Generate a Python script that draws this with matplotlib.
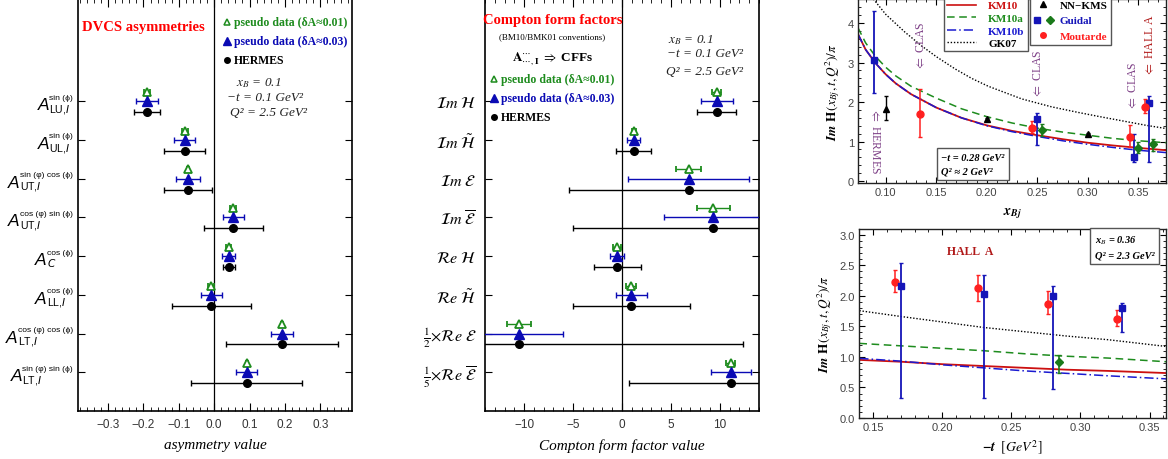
import matplotlib
matplotlib.use('Agg')
import matplotlib.pyplot as plt
from matplotlib.legend_handler import HandlerTuple
from matplotlib.lines import Line2D
from matplotlib.ticker import MultipleLocator, FixedLocator

SERIF = ['Liberation Serif', 'DejaVu Serif']
SANS = ['Liberation Sans', 'DejaVu Sans']

GREEN = '#1e8c1e'
BLUE = '#0a0ab4'
PURPLE = '#7d3f86'

# ---------------- DVCS asymmetries (left panel) ----------------
# label = A^(superscript)_(subscript)
asym_sup = ['sin (ϕ)', 'sin (ϕ)', 'sin (φ) cos (ϕ)', 'cos (φ) sin (ϕ)',
            'cos (ϕ)', 'cos (ϕ)', 'cos (φ) cos (ϕ)', 'sin (φ) sin (ϕ)']
asym_sub = [r'LU,$\mathit{I}$', r'UL,$\mathit{I}$', r'UT,$\mathit{I}$',
            r'UT,$\mathit{I}$', r'$\mathit{C}$', r'LL,$\mathit{I}$',
            r'LT,$\mathit{I}$', r'LT,$\mathit{I}$']
asym_val = [-0.19, -0.083, -0.073, 0.054, 0.041, -0.008, 0.192, 0.092]
asym_err_fine = [0.009, 0.009, 0.003, 0.009, 0.007, 0.008, 0.003, 0.003]
asym_err_blue = [0.031, 0.030, 0.034, 0.030, 0.018, 0.030, 0.031, 0.030]
asym_err_hermes = [0.036, 0.058, 0.068, 0.083, 0.017, 0.111, 0.158, 0.157]

# ---------------- Compton form factors (middle panel) ----------------
cff_labels = [
    r'$\mathcal{I}m\ \mathcal{H}$',
    r'$\mathcal{I}m\ \tilde{\mathcal{H}}$',
    r'$\mathcal{I}m\ \mathcal{E}$',
    r'$\mathcal{I}m\ \overline{\mathcal{E}}$',
    r'$\mathcal{R}e\ \mathcal{H}$',
    r'$\mathcal{R}e\ \tilde{\mathcal{H}}$',
    r'$\frac{1}{2}{\times}\mathcal{R}e\ \mathcal{E}$',
    r'$\frac{1}{5}{\times}\mathcal{R}e\ \overline{\mathcal{E}}$',
]
cff_val = [9.7, 1.19, 6.8, 9.35, -0.5, 0.95, -10.5, 11.1]
cff_err_fine = [0.45, 0.2, 1.28, 1.67, 0.45, 0.5, 1.22, 0.5]
cff_err_blue = [1.67, 0.68, 6.2, 5.1, 0.7, 1.56, 4.5, 2.04]
cff_err_hermes = [2.0, 1.8, 12.2, 14.4, 2.4, 6.0, 22.9, 10.4]

# ---------------- Im H vs x_Bj (top right) ----------------
xb_grid = [0.0725, 0.08, 0.09, 0.10, 0.11, 0.125, 0.15, 0.175, 0.2,
           0.225, 0.25, 0.275, 0.3, 0.325, 0.35, 0.3775]
km10_xb = [3.72, 3.33, 2.98, 2.70, 2.47, 2.20, 1.86, 1.60, 1.41,
           1.27, 1.16, 1.06, 0.97, 0.90, 0.84, 0.78]
km10a_xb = [3.88, 3.50, 3.15, 2.88, 2.66, 2.40, 2.10, 1.83, 1.63,
            1.47, 1.34, 1.24, 1.16, 1.08, 1.02, 0.97]
km10b_xb = [3.72, 3.33, 2.98, 2.70, 2.47, 2.20, 1.86, 1.60, 1.40,
            1.25, 1.13, 1.02, 0.93, 0.85, 0.78, 0.72]
gk07_grid = [0.084, 0.0877, 0.10, 0.119, 0.1356, 0.15, 0.1686, 0.185, 0.2015,
             0.2346, 0.264, 0.29, 0.312, 0.335, 0.358, 0.3775]
gk07_xb = [4.74, 4.61, 4.22, 3.77, 3.42, 3.15, 2.84, 2.60, 2.40,
           2.08, 1.88, 1.74, 1.63, 1.52, 1.41, 1.33]

nn_x = [0.10, 0.20, 0.3005]
nn_y = [1.83, 1.56, 1.18]
nn_lo = [1.55, 1.52, 1.14]
nn_hi = [2.15, 1.60, 1.22]

guidal_sq_x = [0.0884, 0.2494, 0.3457, 0.3606]
guidal_sq_y = [3.06, 1.58, 0.61, 1.98]
guidal_sq_lo = [2.23, 0.90, 0.47, 0.48]
guidal_sq_hi = [4.31, 1.72, 1.18, 2.16]

guidal_dm_x = [0.2544, 0.3500, 0.3648]
guidal_dm_y = [1.30, 0.84, 0.93]
guidal_dm_lo = [1.13, 0.72, 0.76]
guidal_dm_hi = [1.45, 0.99, 1.07]

mout_x = [0.134, 0.245, 0.3418, 0.357]
mout_y = [1.71, 1.35, 1.12, 1.87]
mout_lo = [1.12, 1.22, 0.85, 1.72]
mout_hi = [2.34, 1.51, 1.43, 2.08]

# ---------------- Im H vs -t (bottom right, Hall A) ----------------
t_grid = [0.14, 0.17, 0.20, 0.23, 0.26, 0.29, 0.32, 0.362]
gk07_t = [1.755, 1.66, 1.57, 1.48, 1.41, 1.34, 1.28, 1.17]
km10a_t = [1.22, 1.18, 1.14, 1.10, 1.05, 1.01, 0.98, 0.92]
km10_t = [0.95, 0.92, 0.88, 0.85, 0.82, 0.79, 0.77, 0.735]
km10b_t = [0.975, 0.93, 0.87, 0.82, 0.77, 0.73, 0.69, 0.64]

hallA_mout_t = [0.1657, 0.2262, 0.2762, 0.3267]
hallA_mout_y = [2.23, 2.12, 1.87, 1.62]
hallA_mout_lo = [2.06, 1.91, 1.70, 1.50]
hallA_mout_hi = [2.42, 2.34, 2.08, 1.77]

hallA_sq_t = [0.1698, 0.2300, 0.2803, 0.3303]
hallA_sq_y = [2.15, 2.03, 1.99, 1.80]
hallA_sq_lo = [0.33, 0.33, 0.47, 1.41]
hallA_sq_hi = [2.53, 2.34, 2.16, 1.875]

hallA_dm_t = [0.2841]
hallA_dm_y = [0.92]
hallA_dm_lo = [0.735]
hallA_dm_hi = [1.03]


def asym_err(val, lo, hi):
    return [[v - l for v, l in zip(val, lo)], [h - v for v, h in zip(val, hi)]]


def row_panel(ax, val, err_fine, err_blue, err_hermes):
    rows = [-i for i in range(len(val))]
    ax.errorbar(val, [r + 0.24 for r in rows], xerr=err_fine, fmt='^',
                ms=6, mfc='white', mec=GREEN, mew=1.3, ecolor=GREEN,
                elinewidth=1.0, capsize=2.5, zorder=4)
    ax.errorbar(val, rows, xerr=err_blue, fmt='^', ms=7, color=BLUE,
                elinewidth=1.0, capsize=2.5, zorder=4)
    ax.errorbar(val, [r - 0.28 for r in rows], xerr=err_hermes, fmt='o',
                ms=5.5, color='black', elinewidth=1.0, capsize=2.5, zorder=3)
    ax.axvline(0, color='black', lw=0.9, zorder=1)
    ax.set_ylim(-8, 2.64)
    ax.set_yticks(rows)
    ax.tick_params(axis='y', which='both', direction='in', right=True,
                   length=5, pad=6)
    ax.tick_params(axis='x', which='both', direction='in', top=True,
                   labelsize=8.5, labelcolor='#333333', pad=5)
    ax.tick_params(axis='x', which='major', length=6)
    ax.tick_params(axis='x', which='minor', length=3)
    for s in ax.spines.values():
        s.set_linewidth(1.2)
    return rows


def legend_rows(ax, x_mark, x_text, ys, fs):
    ax.plot([x_mark], [ys[0]], '^', ms=5, mfc='white', mec=GREEN, mew=1.1,
            transform=ax.transAxes, clip_on=False)
    ax.plot([x_mark], [ys[1]], '^', ms=5.5, color=BLUE,
            transform=ax.transAxes, clip_on=False)
    ax.plot([x_mark], [ys[2]], 'o', ms=4, color='black',
            transform=ax.transAxes, clip_on=False)
    ax.text(x_text, ys[0], 'pseudo data (δA≈0.01)', color=GREEN, fontsize=fs,
            fontweight='bold', family=SERIF, va='center', transform=ax.transAxes)
    ax.text(x_text, ys[1], 'pseudo data (δA≈0.03)', color=BLUE, fontsize=fs,
            fontweight='bold', family=SERIF, va='center', transform=ax.transAxes)
    ax.text(x_text, ys[2], 'HERMES', color='black', fontsize=fs,
            fontweight='bold', family=SERIF, va='center', transform=ax.transAxes)


fig = plt.figure(figsize=(11.68, 4.6), dpi=100)
renderer = fig.canvas.get_renderer()

# ---- left panel
ax1 = fig.add_axes([0.0668, 0.1043, 0.2346, 0.8957])
rows1 = row_panel(ax1, asym_val, asym_err_fine, asym_err_blue, asym_err_hermes)
ax1.set_yticklabels([])
ytr = ax1.get_yaxis_transform()
for r, sup, sub in zip(rows1, asym_sup, asym_sub):
    kw = dict(xycoords=ytr, textcoords='offset points', family=SANS,
              math_fontfamily='dejavusans', ha='left', va='baseline',
              annotation_clip=False)
    t_sup = ax1.annotate(sup, (0, r), xytext=(0, 1.8), fontsize=6.1, **kw)
    t_sub = ax1.annotate(sub, (0, r), xytext=(0, -7.3), fontsize=7.6, **kw)
    w = max(t_sup.get_window_extent(renderer).width,
            t_sub.get_window_extent(renderer).width) * 72 / fig.dpi
    x0 = -3.5 - w
    t_sup.xyann = (x0, 1.8)
    t_sub.xyann = (x0, -7.3)
    ax1.annotate('A', (0, r), xycoords=ytr, xytext=(x0 - 0.2, -5.8),
                 textcoords='offset points', family=SANS, style='italic',
                 fontsize=12.5, ha='right', va='baseline', annotation_clip=False)

ax1.set_xlim(-0.385, 0.39)
ax1.xaxis.set_major_locator(FixedLocator([-0.3, -0.2, -0.1, 0.0, 0.1, 0.2, 0.3]))
ax1.xaxis.set_minor_locator(MultipleLocator(0.02))
ax1.set_xticklabels(['−0.3', '−0.2', '−0.1', '0.0', '0.1', '0.2', '0.3'],
                    family=SANS)
ax1.set_xlabel('asymmetry value', fontsize=11, style='italic', family=SERIF,
               labelpad=6)
ax1.text(0.237, 0.934, 'DVCS asymmetries', color='red', fontsize=10.5,
         fontweight='bold', family=SERIF, ha='center', va='center',
         transform=ax1.transAxes)
legend_rows(ax1, 0.545, 0.568, [0.944, 0.898, 0.852], 8.5)
ax1.text(0.575, 0.799, r'$x_B$ = 0.1', fontsize=9.5, style='italic',
         family=SERIF, math_fontfamily='stix', va='center', color='#222222',
         transform=ax1.transAxes)
ax1.text(0.545, 0.762, '−t = 0.1 GeV²', fontsize=9.5, style='italic',
         family=SERIF, va='center', color='#222222', transform=ax1.transAxes)
ax1.text(0.555, 0.726, 'Q² = 2.5 GeV²', fontsize=9.5, style='italic',
         family=SERIF, va='center', color='#222222', transform=ax1.transAxes)

# ---- middle panel
ax2 = fig.add_axes([0.4152, 0.1043, 0.2346, 0.8957])
rows2 = row_panel(ax2, cff_val, cff_err_fine, cff_err_blue, cff_err_hermes)
ax2.set_yticklabels(cff_labels, fontsize=11.5, math_fontfamily='stix')
ax2.set_xlim(-14, 14)
ax2.xaxis.set_major_locator(FixedLocator([-10, -5, 0, 5, 10]))
ax2.xaxis.set_minor_locator(MultipleLocator(1))
ax2.set_xticklabels(['−10', '−5', '0', '5', '10'], family=SANS)
ax2.set_xlabel('Compton form factor value', fontsize=11, style='italic',
               family=SERIF, labelpad=6)
ax2.text(0.246, 0.951, 'Compton form factors', color='red', fontsize=10.5,
         fontweight='bold', family=SERIF, ha='center', va='center',
         transform=ax2.transAxes)
ax2.text(0.246, 0.91, '(BM10/BMK01 conventions)', fontsize=6.5,
         family=SERIF, ha='center', va='center', transform=ax2.transAxes)
ax2.text(0.246, 0.857,
         r'$\mathbf{A}^{\cdots}_{\cdots,\mathbf{I}}\ \Rightarrow$ CFFs',
         fontsize=9.5, fontweight='bold', family=SERIF, math_fontfamily='stix',
         ha='center', va='center', transform=ax2.transAxes)
legend_rows(ax2, 0.034, 0.058, [0.806, 0.76, 0.714], 8.5)
ax2.text(0.669, 0.903, r'$x_B$ = 0.1', fontsize=9.5, style='italic',
         family=SERIF, math_fontfamily='stix', va='center', color='#222222',
         transform=ax2.transAxes)
ax2.text(0.664, 0.869, '−t = 0.1 GeV²', fontsize=9.5, style='italic',
         family=SERIF, va='center', color='#222222', transform=ax2.transAxes)
ax2.text(0.662, 0.825, 'Q² = 2.5 GeV²', fontsize=9.5, style='italic',
         family=SERIF, va='center', color='#222222', transform=ax2.transAxes)


def frame_style(ax):
    ax.tick_params(which='both', direction='in', top=True, right=True,
                   labelsize=8, labelcolor='#444444', pad=3)
    ax.tick_params(which='major', length=4)
    ax.tick_params(which='minor', length=2)
    for lab in ax.get_xticklabels() + ax.get_yticklabels():
        lab.set_family(SANS)
    for s in ax.spines.values():
        s.set_linewidth(1.0)
        s.set_color('#222222')


def draw_curves(ax, xs, km10, km10a, km10b, gx, gk07):
    ax.plot(xs, km10, color='#cc1010', lw=1.3, zorder=2)
    ax.plot(xs, km10a, color=GREEN, lw=1.1, ls=(0, (5, 3)), zorder=2)
    ax.plot(xs, km10b, color='#1a1ad0', lw=1.1, ls=(0, (6, 2, 1, 2)), zorder=2)
    ax.plot(gx, gk07, color='black', lw=1.0, ls=(0, (1, 1.3)), zorder=2)


# ---- top right panel
ax3 = fig.add_axes([0.7346, 0.6, 0.2637, 0.4])
draw_curves(ax3, xb_grid, km10_xb, km10a_xb, km10b_xb, gk07_grid, gk07_xb)
ax3.errorbar(nn_x, nn_y, yerr=asym_err(nn_y, nn_lo, nn_hi), fmt='^', ms=5,
             color='black', elinewidth=1.0, capsize=1.5, zorder=4)
ax3.errorbar(guidal_sq_x, guidal_sq_y,
             yerr=asym_err(guidal_sq_y, guidal_sq_lo, guidal_sq_hi), fmt='s',
             ms=5, color='#1515b8', elinewidth=1.3, capsize=1.5, zorder=4)
ax3.errorbar(guidal_dm_x, guidal_dm_y,
             yerr=asym_err(guidal_dm_y, guidal_dm_lo, guidal_dm_hi), fmt='D',
             ms=4, color='#1a7a1a', elinewidth=1.2, capsize=1.5, zorder=4)
ax3.errorbar(mout_x, mout_y, yerr=asym_err(mout_y, mout_lo, mout_hi), fmt='o',
             ms=5, color='#ff2020', elinewidth=1.1, capsize=1.5, zorder=4)
ax3.set_xlim(0.0725, 0.3775)
ax3.set_ylim(-0.05, 4.61)
ax3.xaxis.set_major_locator(FixedLocator([0.10, 0.15, 0.20, 0.25, 0.30, 0.35]))
ax3.xaxis.set_minor_locator(MultipleLocator(0.01))
ax3.yaxis.set_major_locator(FixedLocator([0, 1, 2, 3, 4]))
ax3.yaxis.set_minor_locator(MultipleLocator(0.2))
ax3.set_xticklabels(['0.10', '0.15', '0.20', '0.25', '0.30', '0.35'])
frame_style(ax3)
ax3.set_xlabel(r'$\mathbfit{x}_{\mathbfit{Bj}}$', fontsize=10,
               math_fontfamily='stix', labelpad=6)
ax3.set_ylabel(r'$\mathbfit{Im}\ \mathbf{H}\,(\mathit{x_{Bj},t,Q^2})/\pi$',
               fontsize=9.5, math_fontfamily='stix', labelpad=4)

h_km = [Line2D([], [], color='#cc1010', lw=1.2),
        Line2D([], [], color=GREEN, lw=1.1, ls=(0, (5, 3))),
        Line2D([], [], color='#1a1ad0', lw=1.1, ls=(0, (6, 2, 1, 2))),
        Line2D([], [], color='black', lw=1.0, ls=(0, (1, 1.3)))]
leg1 = ax3.legend(h_km, ['KM10', 'KM10a', 'KM10b', 'GK07'], loc='lower left',
                  bbox_to_anchor=(0.278, 0.715),
                  prop={'family': SERIF, 'weight': 'bold', 'size': 8},
                  labelcolor=['#cc1010', GREEN, '#1a1ad0', 'black'],
                  frameon=True, fancybox=False, edgecolor='#555555',
                  framealpha=1, handlelength=2.6, handletextpad=1.1,
                  labelspacing=0.25, borderpad=0.3, borderaxespad=0)
leg1.get_frame().set_linewidth(1.0)
ax3.add_artist(leg1)
h_data = [Line2D([], [], marker='^', color='black', ls='', ms=5),
          (Line2D([], [], marker='s', color='#1515b8', ls='', ms=4),
           Line2D([], [], marker='D', color='#1a7a1a', ls='', ms=4)),
          Line2D([], [], marker='o', color='#ff2020', ls='', ms=4)]
leg2 = ax3.legend(h_data, ['NN−KMS', 'Guidal', 'Moutarde'], loc='lower left',
                  bbox_to_anchor=(0.558, 0.752),
                  prop={'family': SERIF, 'weight': 'bold', 'size': 8},
                  labelcolor=['black', '#1515b8', '#ff2020'],
                  handler_map={tuple: HandlerTuple(ndivide=None, pad=0.6)},
                  frameon=True, fancybox=False, edgecolor='#555555',
                  framealpha=1, handlelength=1.8, handletextpad=0.6,
                  labelspacing=0.55, borderpad=0.3, borderaxespad=0)
leg2.get_frame().set_linewidth(1.0)

akw = dict(fontsize=8.5, family=SERIF, math_fontfamily='stix', ha='center')
ax3.text(0.0895, 1.87, r'$\Leftarrow$ HERMES', rotation=-90, color=PURPLE,
         va='top', **akw)
ax3.text(0.135, 2.83, r'$\Leftarrow$ CLAS', rotation=90, color=PURPLE,
         va='bottom', **akw)
ax3.text(0.251, 2.12, r'$\Leftarrow$ CLAS', rotation=90, color=PURPLE,
         va='bottom', **akw)
ax3.text(0.345, 1.82, r'$\Leftarrow$ CLAS', rotation=90, color=PURPLE,
         va='bottom', **akw)
ax3.text(0.3617, 2.68, r'$\Leftarrow$ HALL A', rotation=90, color='#b01818',
         va='bottom', **akw)
ax3.text(0.155, 0.2, '−t = 0.28 GeV²\nQ² ≈ 2 GeV²', fontsize=7.5,
         style='italic', fontweight='bold', family=SERIF, linespacing=1.6,
         bbox=dict(boxstyle='square,pad=0.45', fc='white', ec='#555555'))

# ---- bottom right panel
ax4 = fig.add_axes([0.7354, 0.0891, 0.2628, 0.4109])
draw_curves(ax4, t_grid, km10_t, km10a_t, km10b_t, t_grid, gk07_t)
ax4.errorbar(hallA_mout_t, hallA_mout_y,
             yerr=asym_err(hallA_mout_y, hallA_mout_lo, hallA_mout_hi),
             fmt='o', ms=5, color='#ff2020', elinewidth=1.1, capsize=1.5,
             zorder=4)
ax4.errorbar(hallA_sq_t, hallA_sq_y,
             yerr=asym_err(hallA_sq_y, hallA_sq_lo, hallA_sq_hi), fmt='s',
             ms=5, color='#1515b8', elinewidth=1.3, capsize=1.5, zorder=4)
ax4.errorbar(hallA_dm_t, hallA_dm_y,
             yerr=asym_err(hallA_dm_y, hallA_dm_lo, hallA_dm_hi), fmt='D',
             ms=4, color='#1a7a1a', elinewidth=1.2, capsize=1.5, zorder=4)
ax4.set_xlim(0.1397, 0.3618)
ax4.set_ylim(0, 3.09)
ax4.xaxis.set_major_locator(FixedLocator([0.15, 0.20, 0.25, 0.30, 0.35]))
ax4.xaxis.set_minor_locator(MultipleLocator(0.01))
ax4.yaxis.set_major_locator(FixedLocator([0, 0.5, 1.0, 1.5, 2.0, 2.5, 3.0]))
ax4.yaxis.set_minor_locator(MultipleLocator(0.1))
ax4.set_xticklabels(['0.15', '0.20', '0.25', '0.30', '0.35'])
ax4.set_yticklabels(['0.0', '0.5', '1.0', '1.5', '2.0', '2.5', '3.0'])
frame_style(ax4)
ax4.set_xlabel(r'$\mathbfit{-t}\ \ [\mathit{GeV}^{2}]$', fontsize=10,
               math_fontfamily='stix', labelpad=4)
ax4.set_ylabel(r'$\mathbfit{Im}\ \mathbf{H}\,(\mathit{x_{Bj},t,Q^2})/\pi$',
               fontsize=9.5, math_fontfamily='stix', labelpad=4)
ax4.text(0.22, 2.73, 'HALL  A', color='#b01818', fontsize=8.5,
         fontweight='bold', family=SERIF, ha='center', va='center')
ax4.text(0.962, 0.975, 'x$_B$ = 0.36\nQ² = 2.3 GeV²', fontsize=7.5,
         style='italic', fontweight='bold', family=SERIF, linespacing=1.6,
         math_fontfamily='stix', ha='right', va='top', multialignment='left',
         transform=ax4.transAxes,
         bbox=dict(boxstyle='square,pad=0.45', fc='white', ec='#555555'))

fig.savefig('out.png', dpi=100)
